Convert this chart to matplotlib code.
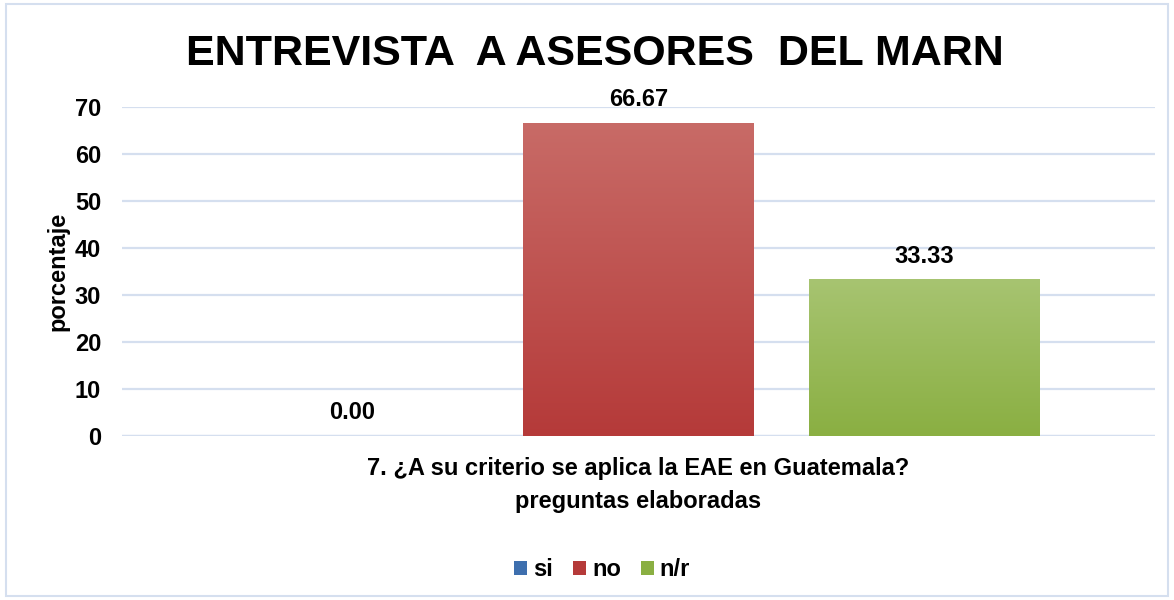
import numpy as np
import matplotlib.pyplot as plt
from matplotlib.colors import LinearSegmentedColormap
from matplotlib.patches import Rectangle, Patch

plt.rcParams['font.family'] = ['Liberation Sans', 'DejaVu Sans']
plt.rcParams['font.weight'] = 'bold'

category = '7. ¿A su criterio se aplica la EAE en Guatemala?'
series = ['si', 'no', 'n/r']
values = [0.00, 66.67, 33.33]
labels = ['0.00', '66.67', '33.33']

# top / bottom colours of the gradient fill
top_cols = ['#5B8AC6', '#C86B67', '#A7C471']
bot_cols = ['#3E6FAE', '#B53A39', '#8AAF42']

fig = plt.figure(figsize=(11.74, 6), dpi=100)
fig.patches.append(Rectangle((0.005, 0.006), 0.99, 0.988, transform=fig.transFigure,
                             fill=False, edgecolor='#D5DFEF', linewidth=1.5))
ax = fig.add_axes([0.1039, 0.2733, 0.8799, 0.5484])

width = 0.2227
step = 0.2769
offsets = [-step, 0, step]

for i, (s, v) in enumerate(zip(series, values)):
    bar = ax.bar(offsets[i], v, width=width, color=bot_cols[i], zorder=2)[0]
    if v > 0:
        cmap = LinearSegmentedColormap.from_list(s, [bot_cols[i], top_cols[i]])
        grad = np.linspace(0, 1, 256).reshape(-1, 1)
        x0 = offsets[i] - width / 2
        im = ax.imshow(grad, cmap=cmap, aspect='auto', origin='lower',
                       extent=[x0, x0 + width, 0, v], zorder=3)
        im.set_clip_path(bar)
    ax.annotate(labels[i], (offsets[i], v), xytext=(0, 8.5), textcoords='offset points',
                ha='center', va='bottom', fontsize=17, fontweight='bold', color='black')

ax.set_xlim(-0.5, 0.5)
ax.set_ylim(0, 70)
ax.set_yticks(range(0, 71, 10))
ax.set_xticks([0])
ax.set_xticklabels([category], fontsize=17, fontweight='bold')
ax.tick_params(axis='y', labelsize=17, length=0, pad=15)
ax.tick_params(axis='x', length=0, pad=15)
ax.grid(axis='y', color='#D5DFEF', linewidth=1.6, zorder=0)
ax.set_axisbelow(True)
for sp in ax.spines.values():
    sp.set_visible(False)
ax.axhline(0, color='#D5DFEF', linewidth=1.6, zorder=1)

ax.set_ylabel('porcentaje', fontsize=17, fontweight='bold', labelpad=4)
ax.set_xlabel('preguntas elaboradas', fontsize=17, fontweight='bold', labelpad=7.5)

fig.suptitle('ENTREVISTA  A ASESORES  DEL MARN', x=0.507, y=0.91, va='center',
             fontsize=31, fontweight='bold')

handles = [Patch(facecolor=bot_cols[i], label=s) for i, s in enumerate(series)]
fig.legend(handles=handles, loc='center', bbox_to_anchor=(0.513, 0.05), ncol=3,
           frameon=False, fontsize=17, handlelength=0.55, handleheight=0.55,
           handletextpad=0.25, columnspacing=0.85)

fig.savefig('out.png', dpi=100)
